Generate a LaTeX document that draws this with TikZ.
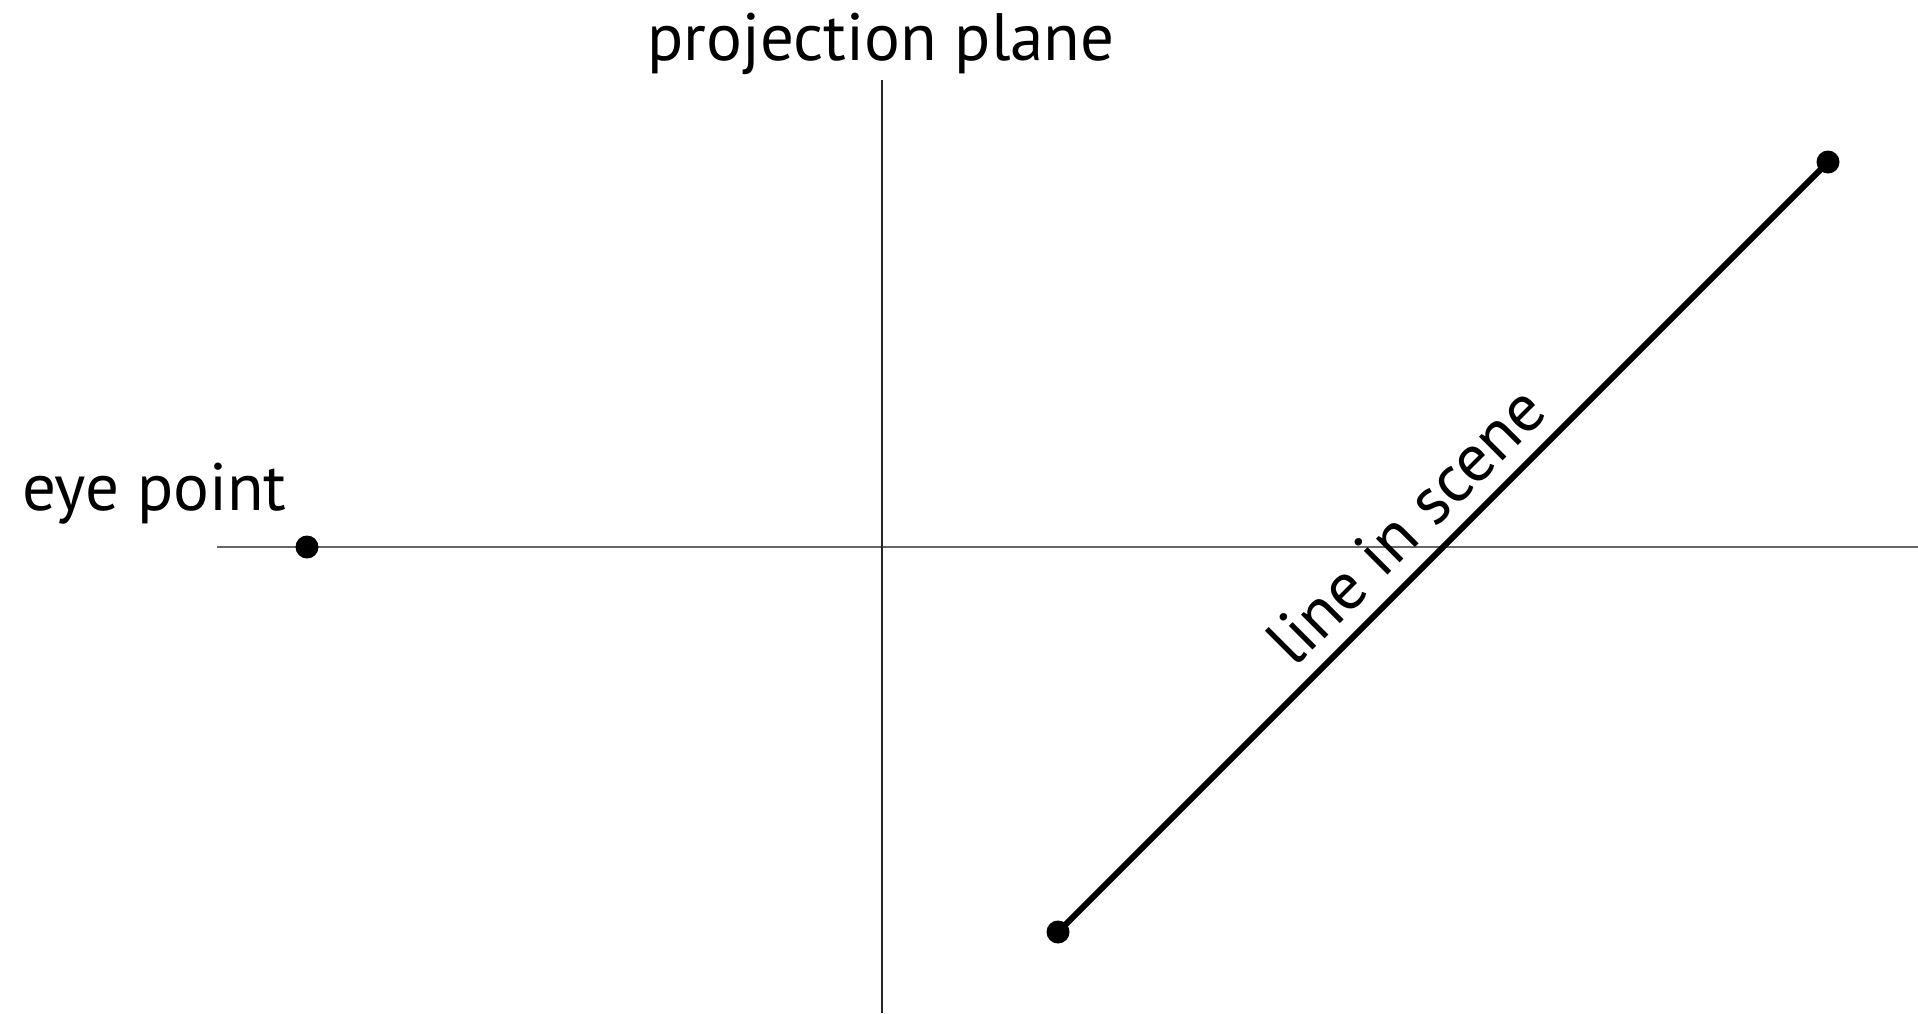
\documentclass[tikz,border=0pt]{standalone}
\usepackage{fontspec}
\setmainfont{PT Sans}
\tikzset{
  dot/.style={circle,fill=black,inner sep=0pt,minimum size=23pt},
  lbl/.style={font=\fontsize{67}{72}\selectfont,inner sep=0pt},
  axis/.style={line width=2.2pt,draw=black!60},
  plane/.style={line width=2.8pt,draw=black!85},
  scene/.style={line width=6pt,draw=black},
}
\begin{document}
\begin{tikzpicture}[x=1pt,y=-1pt]
\useasboundingbox (0,0) rectangle (1918,1013);
\coordinate (hl) at (217,547);
\coordinate (hr) at (1918,547);
\coordinate (vt) at (882,80);
\coordinate (vb) at (882,1013);
\draw[axis] (hl) -- (hr);
\draw[plane] (vt) -- (vb);
\node[dot] (eye) at (307,547) {};
\node[dot] (p1) at (1058,932) {};
\node[dot] (p2) at (1828,162) {};
\draw[scene] (p1.center) -- node[lbl,sloped,above=15pt,pos=0.49] (scenelbl) {line in scene} (p2.center);
\node[lbl,anchor=base] (plbl) at (881,60) {projection plane};
\node[lbl,anchor=base west] (elbl) at (22,510) {eye point};
\end{tikzpicture}
\end{document}
